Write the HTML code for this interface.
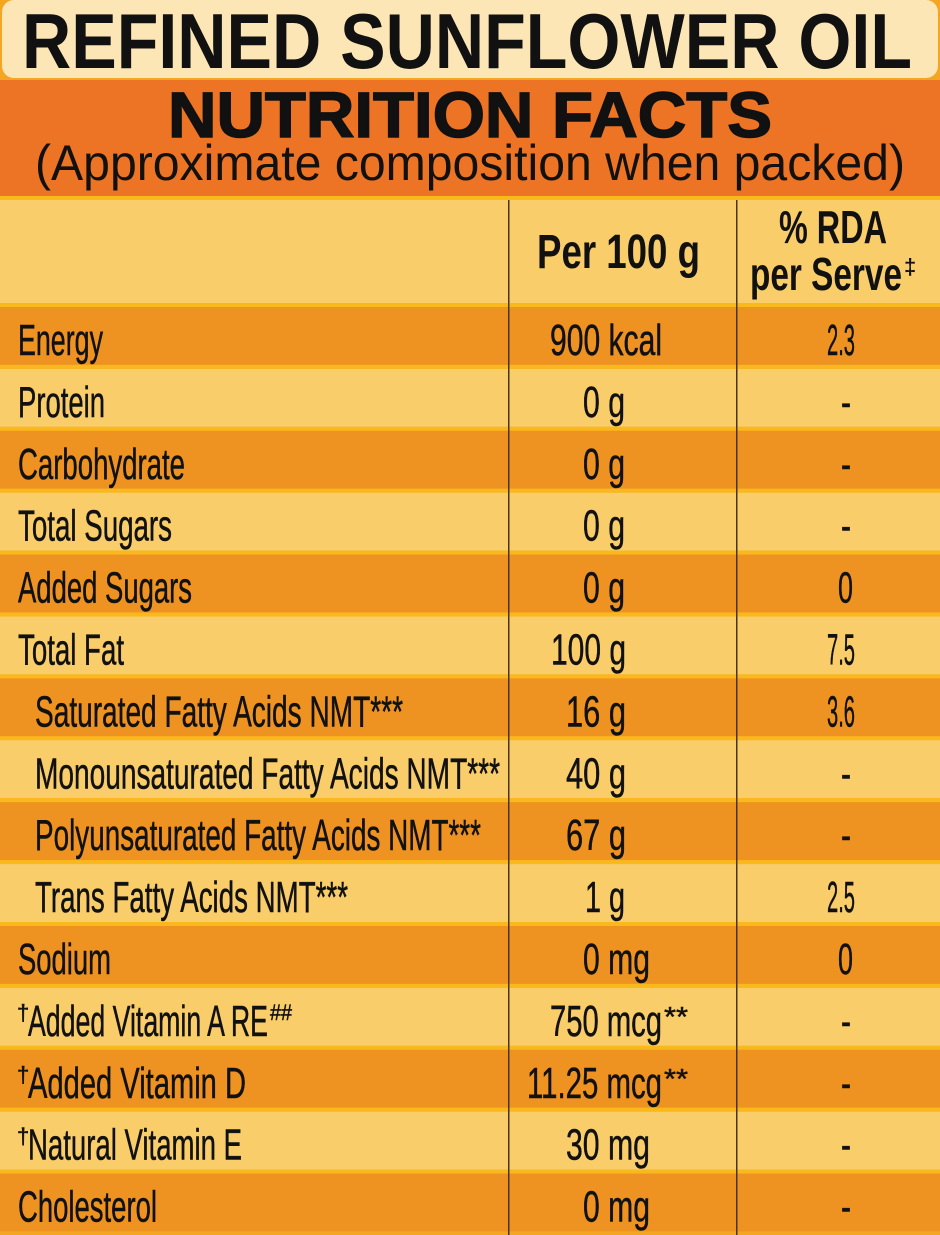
<!DOCTYPE html>
<html><head><meta charset="utf-8"><style>
html,body{margin:0;padding:0;background:#f0a020}
svg{display:block}
text{font-family:"Liberation Sans",sans-serif;fill:#111}
.r{stroke:#111;stroke-width:0.5}
</style></head><body>
<svg width="940" height="1235" viewBox="0 0 940 1235" xmlns="http://www.w3.org/2000/svg">
<rect x="0" y="0" width="940" height="1235" fill="#f4a623"/>
<rect x="2" y="0" width="936" height="78" rx="12" fill="#fde6b6"/>
<rect x="0" y="80" width="940" height="116" fill="#ec7424"/>
<rect x="0" y="196" width="940" height="4" fill="#f9b81c"/>
<rect x="0" y="200" width="940" height="103" fill="#f9cd6a"/>
<g id="rows"></g>
<text x="22" y="68" font-size="78" font-weight="bold" textLength="890" lengthAdjust="spacingAndGlyphs">REFINED SUNFLOWER OIL</text>
<text x="168" y="137" font-size="64" font-weight="bold" stroke="#111" stroke-width="1.5" textLength="604" lengthAdjust="spacingAndGlyphs">NUTRITION FACTS</text>
<text x="35" y="180" font-size="50" textLength="870" lengthAdjust="spacingAndGlyphs">(Approximate composition when packed)</text>
<text x="537" y="268" font-size="48" font-weight="bold" textLength="163" lengthAdjust="spacingAndGlyphs">Per 100 g</text>
<text x="779" y="243" font-size="46" font-weight="bold" textLength="108" lengthAdjust="spacingAndGlyphs">% RDA</text>
<text x="750" y="290" font-size="46" font-weight="bold" textLength="152" lengthAdjust="spacingAndGlyphs">per Serve</text>
<text x="904" y="274" font-size="22" font-weight="bold">‡</text>
</svg>
<script>
(function(){
var ns="http://www.w3.org/2000/svg",svg=document.querySelector('svg'),g=document.getElementById('rows');
var rows=[
["Energy",18,85,"900 kcal",550,112,"2.3",827,28],
["Protein",18,87,"0 g",583,42,"-",841,10],
["Carbohydrate",18,167,"0 g",583,42,"-",841,10],
["Total Sugars",18,154,"0 g",583,42,"-",841,10],
["Added Sugars",18,174,"0 g",583,42,"0",838,15],
["Total Fat",18,106,"100 g",551,75,"7.5",827,28],
["Saturated Fatty Acids NMT***",35,368,"16 g",566,60,"3.6",827,28],
["Monounsaturated Fatty Acids NMT***",35,465,"40 g",566,60,"-",841,10],
["Polyunsaturated Fatty Acids NMT***",35,446,"67 g",566,60,"-",841,10],
["Trans Fatty Acids NMT***",35,313,"1 g",585,40,"2.5",827,28],
["Sodium",18,93,"0 mg",583,67,"0",838,15],
["Added Vitamin A RE",28,240,"750 mcg",550,112,"-",841,10,"##"],
["Added Vitamin D",28,218,"11.25 mcg",527,135,"-",841,10],
["Natural Vitamin E",28,214,"30 mg",566,84,"-",841,10],
["Cholesterol",18,139,"0 mg",583,67,"-",841,10]
];
function t(x,y,s,len,fs){var e=document.createElementNS(ns,'text');e.setAttribute('x',x);e.setAttribute('y',y);e.setAttribute('font-size',fs||44);e.setAttribute('class','r');if(len){e.setAttribute('textLength',len);e.setAttribute('lengthAdjust','spacingAndGlyphs');}e.textContent=s;svg.appendChild(e);}
var top=307,h=61.9;
for(var i=0;i<15;i++){
 var y=top+i*h,r=rows[i];
 var rc=document.createElementNS(ns,'rect');rc.setAttribute('x',0);rc.setAttribute('y',y-4);rc.setAttribute('width',940);rc.setAttribute('height',4);rc.setAttribute('fill','#f9b81c');g.appendChild(rc);
 var b=document.createElementNS(ns,'rect');b.setAttribute('x',0);b.setAttribute('y',y);b.setAttribute('width',940);b.setAttribute('height',h-4);b.setAttribute('fill',i%2==0?'#ee9321':'#f9cd6a');g.appendChild(b);
 var bl=y+48;
 t(r[1],bl,r[0],r[2]);
 if(i>=11&&i<=13){t(17,bl-16,'†',null,22);}
 if(r[9]){t(270,bl-16,r[9],22,22);}
 var vl=r[3],vx=r[4],vw=r[5];
 t(vx,bl,vl,vw);
 if(i==11||i==12){t(vx+vw+2,bl-10,'**',24,28);}
 t(r[7],bl,r[6],r[8]);
}
[508,736].forEach(function(x){var l=document.createElementNS(ns,'rect');l.setAttribute('x',x);l.setAttribute('y',200);l.setAttribute('width',1.5);l.setAttribute('height',1035);l.setAttribute('fill','#4a3510');svg.appendChild(l);});
})();
</script>
</body></html>
